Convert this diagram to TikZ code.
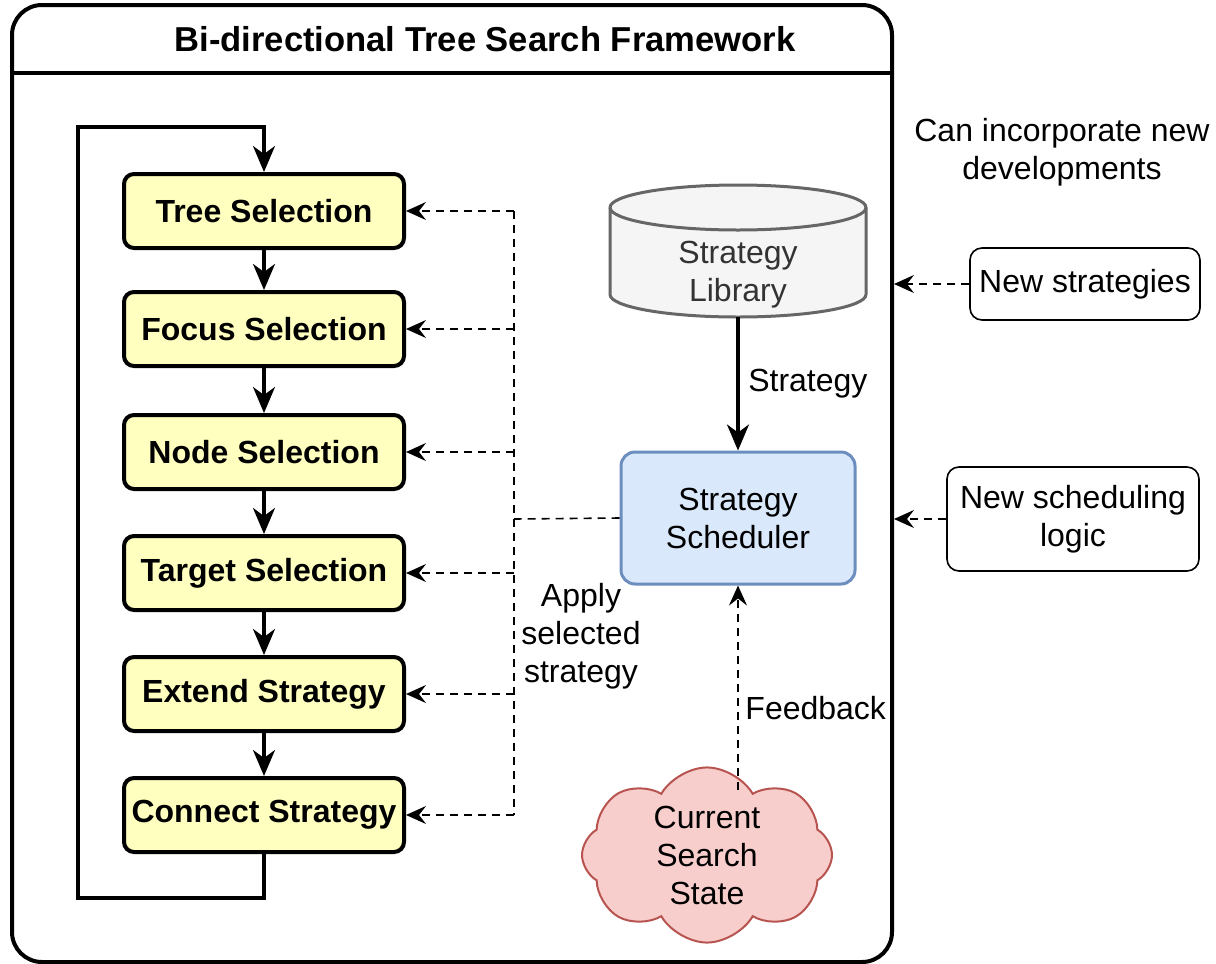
\documentclass[tikz,border=0pt]{standalone}
\usepackage{fontspec}
\setmainfont{Liberation Sans}
\usepackage{tikz}
\usetikzlibrary{arrows.meta,shapes.symbols,positioning}
\definecolor{stagefill}{RGB}{255,255,192}
\definecolor{libfill}{RGB}{245,245,245}
\definecolor{libedge}{RGB}{102,102,102}
\definecolor{libtext}{RGB}{51,51,51}
\definecolor{schedfill}{RGB}{218,232,252}
\definecolor{schededge}{RGB}{108,142,191}
\definecolor{statefill}{RGB}{248,206,204}
\definecolor{stateedge}{RGB}{184,84,80}
\tikzset{
    stage/.style={draw, line width=2pt, rounded corners=5pt, fill=stagefill, minimum width=140pt, minimum height=37pt, inner sep=0pt, font=\fontsize{16}{19}\selectfont\bfseries},
    addon/.style={draw, line width=0.8pt, rounded corners=6pt, align=center, inner sep=0pt},
    flow/.style={line width=1.6pt, -{Stealth[length=13pt,width=11pt,inset=4pt]}},
    hint/.style={line width=0.8pt, dash pattern=on 4pt off 3pt, -{Stealth[length=10pt,width=9pt,inset=3.5pt]}},
    busline/.style={line width=0.8pt, dash pattern=on 4pt off 3pt},
    drum/.style={draw=libedge, line width=1.5pt},
}

\begin{document}
\begin{tikzpicture}[x=0.5pt, y=-0.5pt, font=\fontsize{16}{19}\selectfont]
    \useasboundingbox (0,0) rectangle (1216,964);
    % frame
    \node[draw, line width=2pt, rounded corners=15pt, minimum width=440pt, minimum height=478.5pt, inner sep=0pt] (frame) at (452,483.5) {};
    \coordinate (sepy) at (0,73);
    \draw[line width=1.6pt] (frame.west |- sepy) -- (frame.east |- sepy);
    \node[font=\fontsize{17.3}{20}\selectfont\bfseries] (title) at (485,39) {Bi-directional Tree Search Framework};
    % stages
    \node[stage] (tree) at (264,211) {Tree Selection};
    \node[stage] (focus) at (264,329) {Focus Selection};
    \node[stage] (nodesel) at (264,452) {Node Selection};
    \node[stage] (target) at (264,573) {Target Selection};
    \node[stage] (extend) at (264,694) {Extend Strategy};
    \node[stage] (connect) at (264,815) {Connect Strategy};
    \foreach \a/\b in {tree/focus,focus/nodesel,nodesel/target,target/extend,extend/connect} {
        \draw[flow] (\a) -- (\b);
    }
    % loop back
    \coordinate (loopbl) at (78,898);
    \coordinate (looptl) at (78,127);
    \draw[flow] (connect.south) |- (loopbl) -- (looptl) -| (tree.north);
    % library (drum) and scheduler
    \filldraw[drum, fill=libfill] (610,207.5) -- (610,294.5)
        arc[start angle=180, end angle=0, x radius=128, y radius=22.5] -- (866,207.5)
        arc[start angle=0, end angle=-180, x radius=128, y radius=22.5] -- cycle;
    \draw[drum] (610,207.5) arc[start angle=180, end angle=0, x radius=128, y radius=22.5];
    \node[text=libtext, align=center] (lib) at (738,275) {Strategy\\Library};
    \coordinate (libbase) at (738,317);
    \node[draw=schededge, fill=schedfill, line width=1.5pt, rounded corners=7pt, minimum width=117pt, minimum height=66pt, align=center] (sched) at (738,518) {Strategy\\Scheduler};
    \draw[flow] (libbase) -- (sched) node[midway, right=1pt] (libtxt) {Strategy};
    % dispatch to stages
    \coordinate (bus) at (514,519);
    \draw[busline] (sched.west) -- (bus);
    \draw[busline] (bus |- tree.east) -- (bus |- connect.east);
    \foreach \s in {tree,focus,nodesel,target,extend,connect} {
        \draw[hint] (bus |- \s.east) -- (\s.east);
    }
    \node[align=center] (applytxt) at (581,636) {Apply\\selected\\strategy};
    % search state
    \node[cloud, cloud puffs=8, cloud puff arc=120, aspect=1.5, draw=stateedge, fill=statefill, line width=1pt, align=center, inner sep=0pt, minimum width=125pt, minimum height=80pt] (state) at (707,855) {Current\\Search\\State};
    \coordinate (fbstart) at (738,790);
    \draw[hint] (fbstart) -- (sched.south) node[pos=0.4, right=0pt] (fbtxt) {Feedback};
    % extensions
    \node[align=center] (devnote) at (1062,152) {Can incorporate new\\developments};
    \node[addon, minimum width=115pt, minimum height=36pt] (newstrat) at (1085,284) {New strategies};
    \node[addon, minimum width=126pt, minimum height=52pt] (newsched) at (1073,519) {New scheduling\\logic};
    \draw[hint] (newstrat.west) -- (frame.east |- newstrat.west);
    \draw[hint] (newsched.west) -- (frame.east |- newsched.west);
\end{tikzpicture}
\end{document}
